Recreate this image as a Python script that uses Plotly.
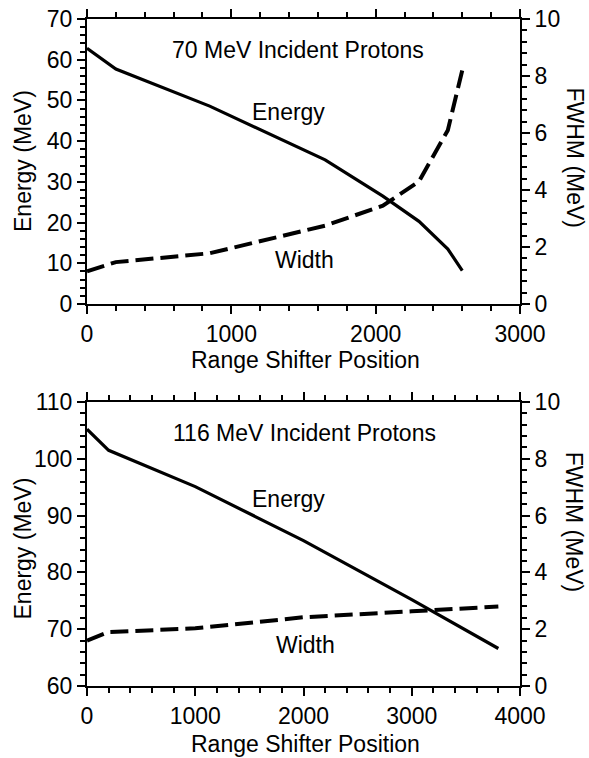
import plotly.graph_objects as go

# ---- Data: 70 MeV incident protons ----
pos70 = [0, 200, 850, 1650, 2050, 2300, 2500, 2600]
energy70 = [62.8, 57.7, 48.6, 35.4, 26.5, 20.3, 13.5, 8.2]
width70 = [1.15, 1.47, 1.78, 2.75, 3.45, 4.3, 6.1, 8.2]

# ---- Data: 116 MeV incident protons ----
pos116 = [0, 200, 1000, 2000, 3000, 3800]
energy116 = [105.2, 101.5, 95.1, 85.6, 75.2, 66.6]
width116 = [1.6, 1.9, 2.03, 2.42, 2.63, 2.8]

FONT = "Liberation Sans, Arial, Helvetica, sans-serif"
FS = 23
W, H = 589, 758

fig = go.Figure()
fig.add_trace(go.Scatter(x=pos70, y=energy70, mode="lines", xaxis="x", yaxis="y",
                         line=dict(color="black", width=3.2), showlegend=False))
fig.add_trace(go.Scatter(x=pos70, y=width70, mode="lines", xaxis="x", yaxis="y2",
                         line=dict(color="black", width=4, dash="18px,7px"), showlegend=False))
fig.add_trace(go.Scatter(x=pos116, y=energy116, mode="lines", xaxis="x2", yaxis="y3",
                         line=dict(color="black", width=3.2), showlegend=False))
fig.add_trace(go.Scatter(x=pos116, y=width116, mode="lines", xaxis="x2", yaxis="y4",
                         line=dict(color="black", width=4, dash="18px,7px"), showlegend=False))

xd = [87 / W, 520 / W]
yd1 = [1 - 304 / H, 1 - 19 / H]
yd2 = [1 - 686 / H, 1 - 402 / H]

def axis(rng, dtick, mdtick, **kw):
    d = dict(range=rng, dtick=dtick, tick0=rng[0], tickmode="linear",
             ticks="outside", ticklen=8, tickwidth=2,
             tickcolor="black", showline=True, linecolor="black", linewidth=2,
             showgrid=False, zeroline=False, fixedrange=True, automargin=False,
             tickfont=dict(family=FONT, size=FS, color="black"),
             minor=dict(dtick=mdtick, tick0=rng[0], tickmode="linear", ticks="outside",
                        ticklen=5, tickwidth=1.8, tickcolor="black", showgrid=False))
    d.update(kw)
    return d

fig.update_layout(
    template="none",
    width=W, height=H,
    margin=dict(l=0, r=0, t=0, b=0, pad=0),
    paper_bgcolor="white", plot_bgcolor="white",
    xaxis=axis([0, 3000], 1000, 200, domain=xd, anchor="y", mirror="ticks"),
    yaxis=axis([0, 70], 10, 2, domain=yd1, anchor="x"),
    yaxis2=axis([0, 10], 2, 0.4, domain=yd1, anchor="x", overlaying="y", side="right"),
    xaxis2=axis([0, 4000], 1000, 200, domain=xd, anchor="y3", mirror="ticks"),
    yaxis3=axis([60, 110], 10, 2, domain=yd2, anchor="x2"),
    yaxis4=axis([0, 10], 2, 0.4, domain=yd2, anchor="x2", overlaying="y3", side="right"),
)

ann = []
def txt(text, x, y, xref="paper", yref="paper", angle=0):
    ann.append(dict(text=text, x=x, y=y, xref=xref, yref=yref, textangle=angle,
                    showarrow=False, xanchor="center", yanchor="middle",
                    font=dict(family=FONT, size=FS, color="black")))

# axis titles
txt("Energy (MeV)", 22.5 / W, 1 - 161.5 / H, angle=-90)
txt("Energy (MeV)", 22.5 / W, 1 - 549 / H, angle=-90)
txt("FWHM (MeV)", 574 / W, 1 - 157.5 / H, angle=90)
txt("FWHM (MeV)", 574 / W, 1 - 521.7 / H, angle=90)
txt("Range Shifter Position", 305 / W, 1 - 360 / H)
txt("Range Shifter Position", 305 / W, 1 - 744 / H)

# in-plot labels
txt("70 MeV Incident Protons", 1462, 62.4, "x", "y")
txt("Energy", 1393, 47.2, "x", "y")
txt("Width", 1507, 10.8, "x", "y")
txt("116 MeV Incident Protons", 2005, 104.6, "x2", "y3")
txt("Energy", 1860, 93.0, "x2", "y3")
txt("Width", 2014, 67.2, "x2", "y3")

fig.update_layout(annotations=ann)
fig.write_html("out.html")
